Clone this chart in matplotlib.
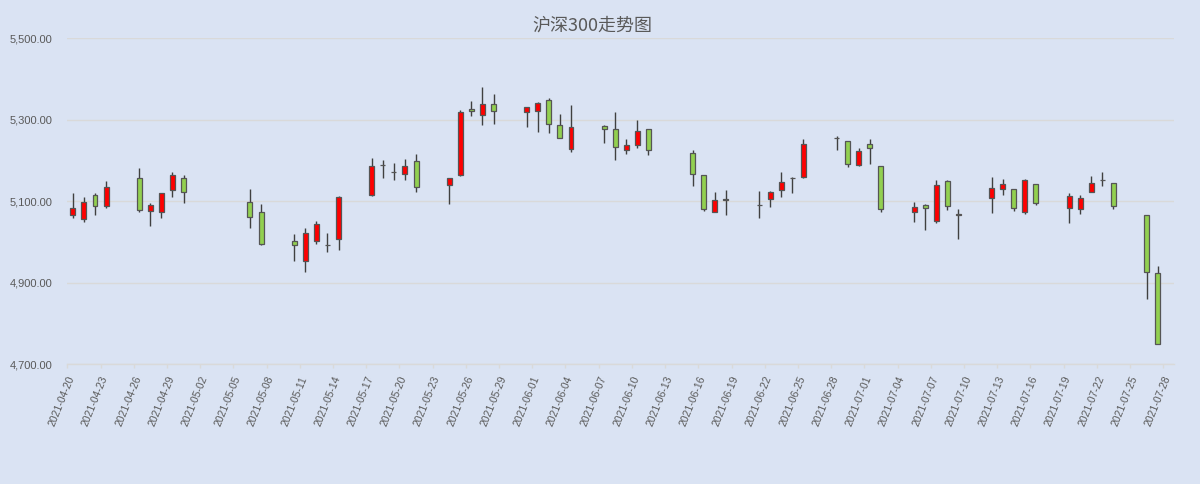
import pandas as pd
import matplotlib
matplotlib.use("Agg")
import matplotlib.pyplot as plt
import matplotlib.dates as mdates
import matplotlib.transforms as mtransforms
from matplotlib.ticker import FuncFormatter

plt.rcParams['font.family'] = ['Liberation Sans', 'Noto Sans CJK SC', 'DejaVu Sans']

# 沪深300 日K数据
dates = [
    '2021-04-20', '2021-04-21', '2021-04-22', '2021-04-23', '2021-04-26', '2021-04-27',
    '2021-04-28', '2021-04-29', '2021-04-30', '2021-05-06', '2021-05-07', '2021-05-10',
    '2021-05-11', '2021-05-12', '2021-05-13', '2021-05-14', '2021-05-17', '2021-05-18',
    '2021-05-19', '2021-05-20', '2021-05-21', '2021-05-24', '2021-05-25', '2021-05-26',
    '2021-05-27', '2021-05-28', '2021-05-31', '2021-06-01', '2021-06-02', '2021-06-03',
    '2021-06-04', '2021-06-07', '2021-06-08', '2021-06-09', '2021-06-10', '2021-06-11',
    '2021-06-15', '2021-06-16', '2021-06-17', '2021-06-18', '2021-06-21', '2021-06-22',
    '2021-06-23', '2021-06-24', '2021-06-25', '2021-06-28', '2021-06-29', '2021-06-30',
    '2021-07-01', '2021-07-02', '2021-07-05', '2021-07-06', '2021-07-07', '2021-07-08',
    '2021-07-09', '2021-07-12', '2021-07-13', '2021-07-14', '2021-07-15', '2021-07-16',
    '2021-07-19', '2021-07-20', '2021-07-21', '2021-07-22', '2021-07-23', '2021-07-26',
    '2021-07-27',
]
opens = [
    5065, 5055, 5115, 5087, 5156, 5075, 5073, 5127, 5156, 5098, 5073, 5002,
    4954, 5003, 4993, 5007, 5114, 5189, 5172, 5167, 5199, 5140, 5165, 5327,
    5312, 5339, 5320, 5322, 5349, 5288, 5229, 5285, 5278, 5226, 5238, 5278,
    5219, 5165, 5074, 5105, 5091, 5105, 5128, 5156, 5160, 5255, 5248, 5189,
    5241, 5187, 5074, 5091, 5052, 5150, 5065, 5108, 5130, 5130, 5074, 5143,
    5084, 5081, 5123, 5152, 5145, 5066, 4924,
]
highs = [
    5120, 5110, 5120, 5149, 5181, 5095, 5120, 5171, 5164, 5131, 5093, 5019,
    5034, 5052, 5022, 5112, 5205, 5200, 5193, 5203, 5216, 5158, 5325, 5347,
    5381, 5362, 5332, 5344, 5354, 5315, 5337, 5288, 5320, 5253, 5300, 5278,
    5226, 5165, 5123, 5128, 5125, 5125, 5172, 5160, 5253, 5261, 5248, 5231,
    5253, 5187, 5098, 5093, 5153, 5153, 5081, 5160, 5155, 5130, 5155, 5143,
    5121, 5116, 5162, 5172, 5145, 5066, 4941,
]
lows = [
    5058, 5049, 5066, 5084, 5073, 5040, 5058, 5111, 5095, 5035, 4992, 4952,
    4925, 4994, 4975, 4980, 5113, 5156, 5151, 5152, 5123, 5093, 5161, 5310,
    5288, 5290, 5283, 5270, 5268, 5256, 5221, 5243, 5202, 5216, 5231, 5214,
    5138, 5076, 5074, 5066, 5059, 5085, 5111, 5120, 5157, 5226, 5184, 5187,
    5192, 5074, 5049, 5030, 5047, 5079, 5007, 5071, 5116, 5076, 5069, 5091,
    5047, 5069, 5123, 5138, 5081, 4860, 4749,
]
closes = [
    5083, 5098, 5088, 5134, 5078, 5090, 5120, 5164, 5122, 5061, 4994, 4992,
    5022, 5044, 4992, 5110, 5186, 5190, 5171, 5187, 5135, 5157, 5320, 5322,
    5339, 5322, 5332, 5342, 5290, 5256, 5283, 5278, 5234, 5238, 5273, 5226,
    5167, 5081, 5103, 5104, 5090, 5122, 5147, 5157, 5241, 5254, 5192, 5224,
    5231, 5081, 5086, 5084, 5140, 5089, 5068, 5133, 5143, 5084, 5153, 5096,
    5113, 5108, 5145, 5151, 5089, 4926, 4749,
]

bg = '#DAE3F3'
up_color = '#FF0000'
down_color = '#92D050'
text_color = '#595959'
grid_color = '#D9D9D9'

df = pd.DataFrame({'date': pd.to_datetime(dates), 'open': opens, 'high': highs,
                   'low': lows, 'close': closes})
# 日期轴上, K线画在当天格子的中间
df['x'] = mdates.date2num(df['date']) + 0.5
colors = [up_color if c > o else down_color for o, c in zip(df['open'], df['close'])]

fig = plt.figure(figsize=(12, 4.84), dpi=100, facecolor=bg)
ax = fig.add_axes([0.0561, 0.2479, 0.9225, 0.673])
ax.set_facecolor(bg)

ax.vlines(df['x'], df['low'], df['high'], color='#404040', linewidth=1.0, zorder=2)
ax.bar(df['x'], df['close'] - df['open'], bottom=df['open'], width=0.45,
       color=colors, edgecolor='#555555', linewidth=0.9, zorder=3)

start = pd.Timestamp('2021-04-20')
ax.set_xlim(mdates.date2num(start), mdates.date2num(pd.Timestamp('2021-07-29')))
ax.set_ylim(4700, 5500)
ax.set_yticks([4700, 4900, 5100, 5300, 5500])
ax.yaxis.set_major_formatter(FuncFormatter(lambda v, p: f'{v:,.2f}'))

tick_dates = pd.date_range('2021-04-20', '2021-07-28', freq='3D')
ax.set_xticks(mdates.date2num(tick_dates))
ax.set_xticklabels([d.strftime('%Y-%m-%d') for d in tick_dates], rotation=68,
                   ha='right', va='center', rotation_mode='anchor')

ax.grid(axis='y', color=grid_color, linewidth=1.0)
ax.set_axisbelow(True)
for side in ['top', 'right', 'left']:
    ax.spines[side].set_visible(False)
ax.spines['bottom'].set_color(grid_color)
ax.spines['bottom'].set_linewidth(1.0)

ax.tick_params(axis='y', length=0, pad=10.5, labelsize=8, labelcolor=text_color)
ax.tick_params(axis='x', length=3, width=1, color=grid_color, pad=6,
               labelsize=7.5, labelcolor=text_color)

# 标签稍微右移, 对齐原图
offset = mtransforms.ScaledTranslation(4.5 / 100, 0, fig.dpi_scale_trans)
for label in ax.get_xticklabels():
    label.set_transform(label.get_transform() + offset)

fig.text(0.494, 0.947, '沪深300走势图', ha='center', va='center', fontsize=13,
         color=text_color, family=['Noto Sans CJK SC', 'DejaVu Sans'])

fig.savefig('out.png', dpi=100, facecolor=bg)
